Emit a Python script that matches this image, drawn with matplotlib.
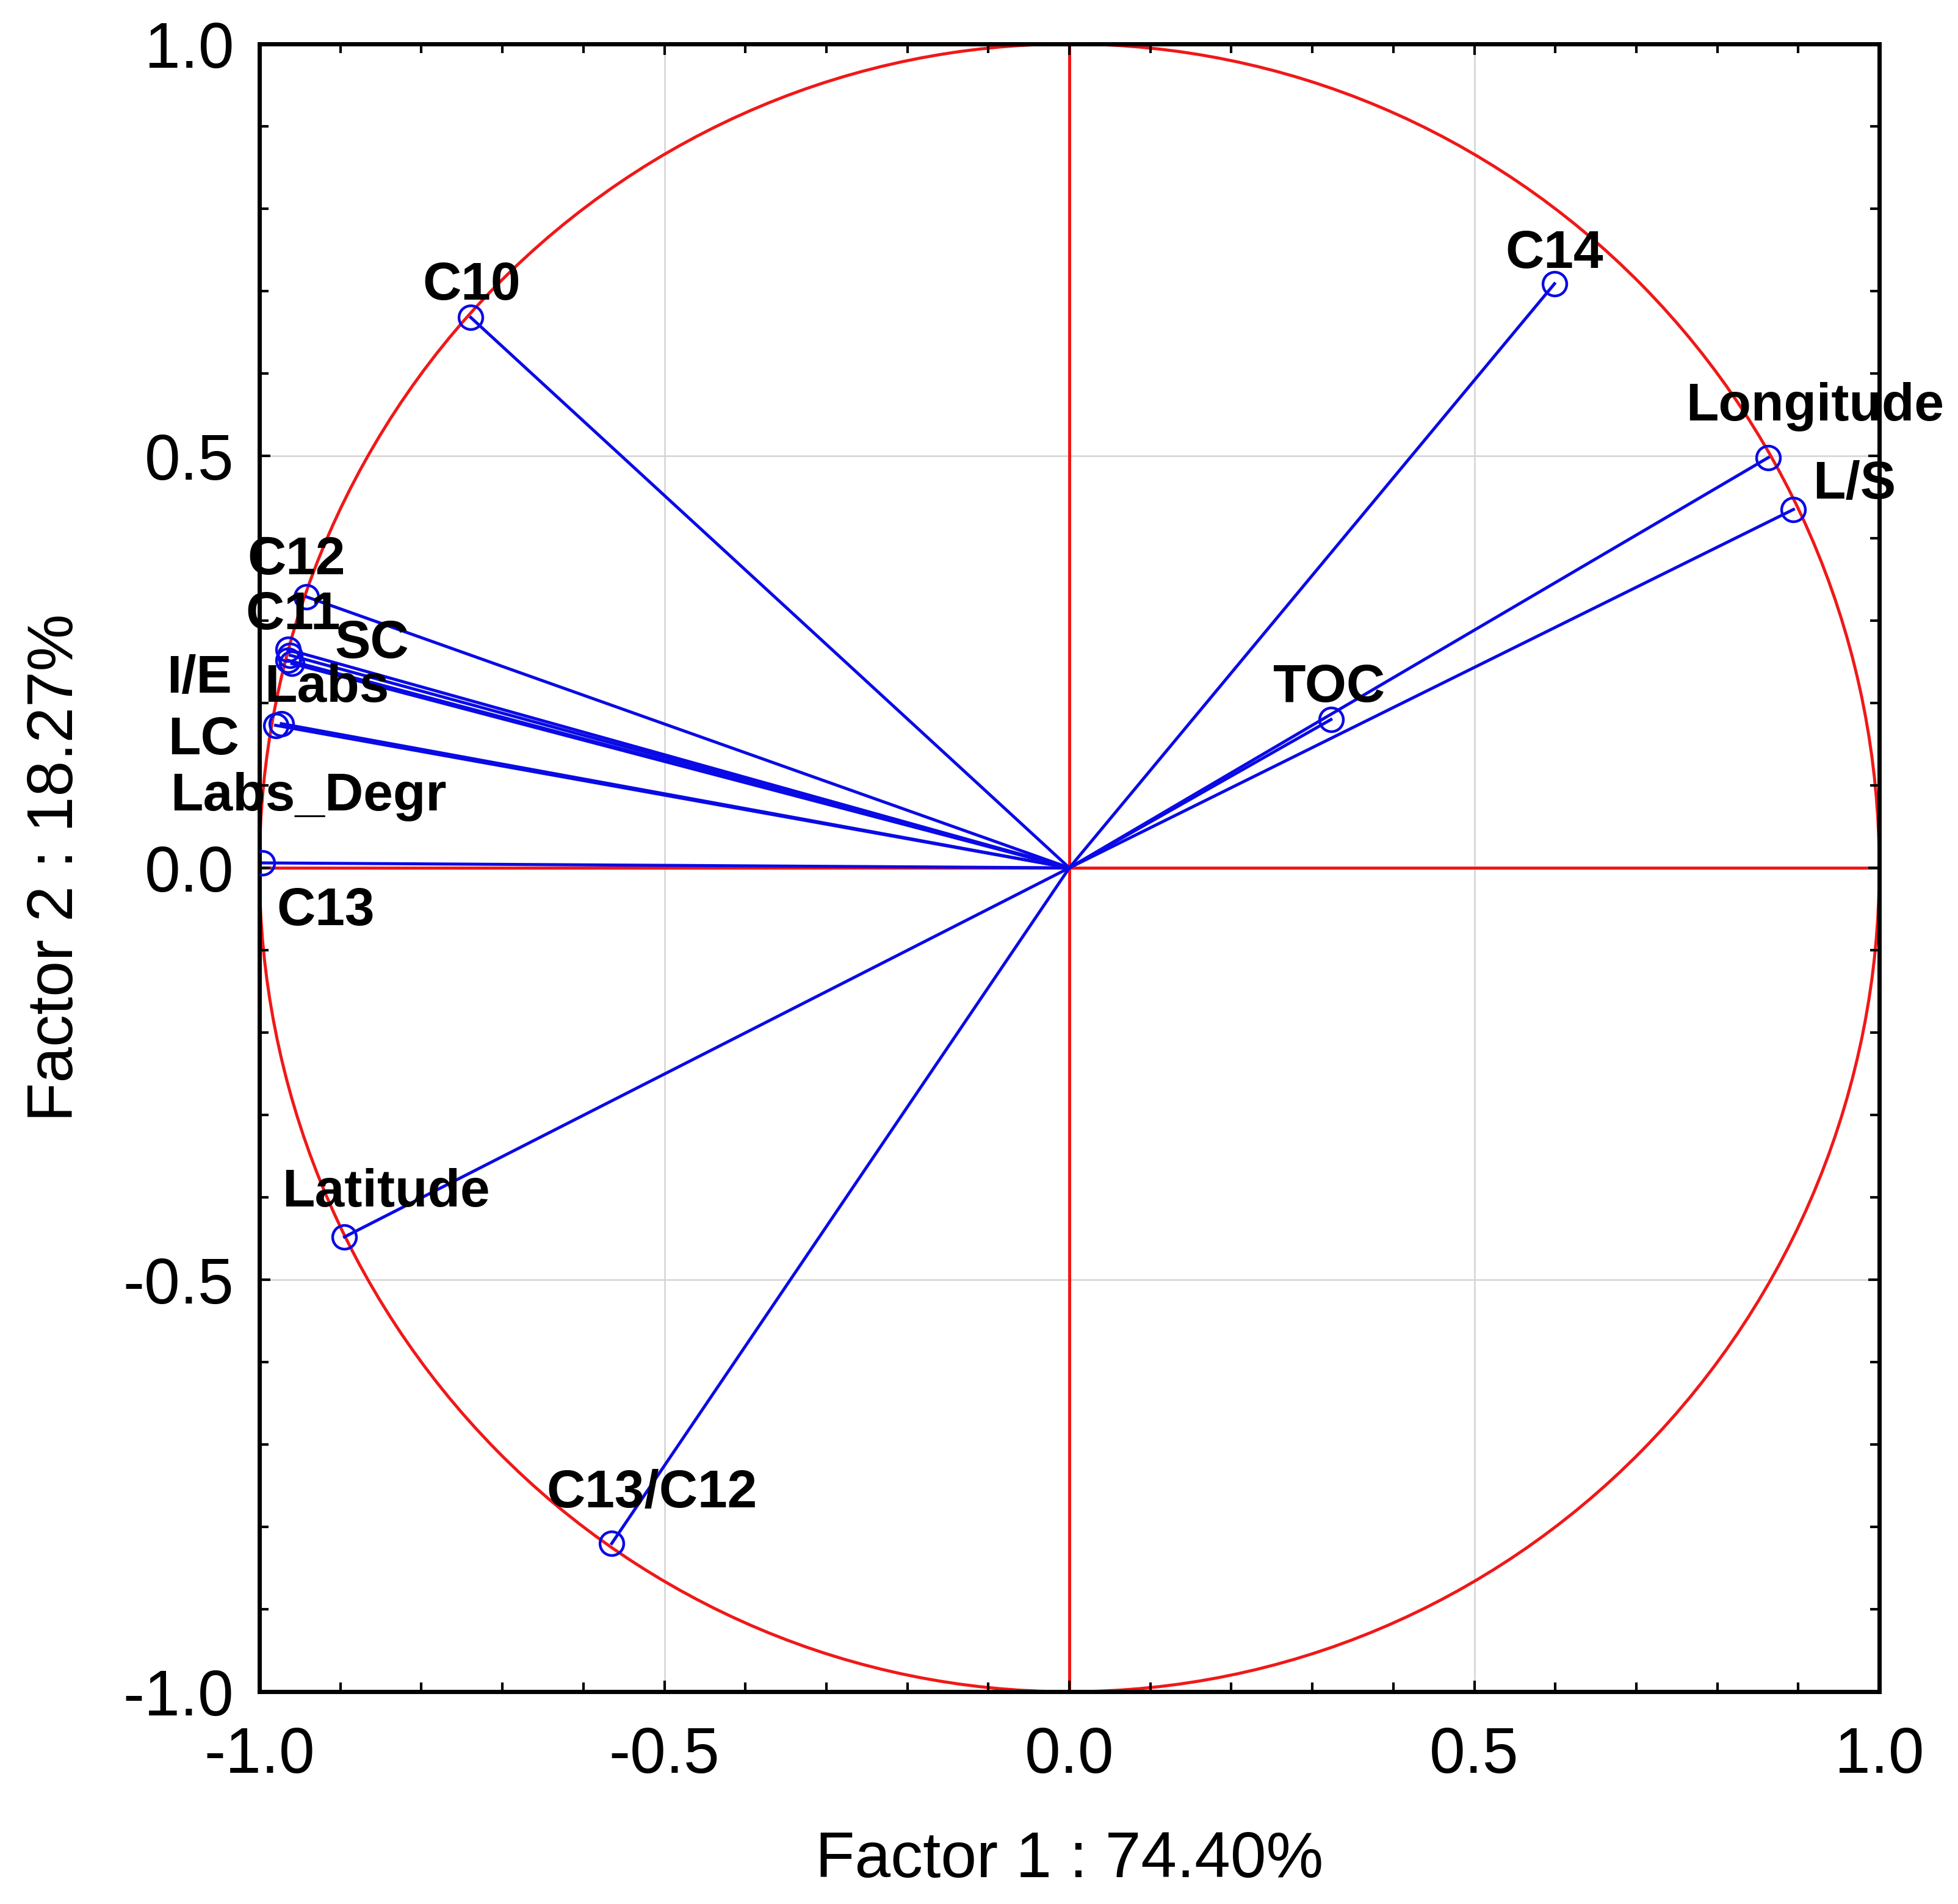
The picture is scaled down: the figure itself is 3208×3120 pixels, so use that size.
import matplotlib
matplotlib.use("Agg")
import matplotlib.pyplot as plt
import matplotlib.patches as mpatches
from matplotlib.ticker import MultipleLocator

plt.rcParams["font.family"] = ["Liberation Sans", "DejaVu Sans"]

# 变量载荷（Factor 1, Factor 2）
names = ["C10", "C14", "Longitude", "L/S", "TOC", "C12", "C11", "SC", "I/E",
         "Labs", "LC", "Labs_Degr", "C13", "Latitude", "C13/C12"]
f1 = [-0.739, 0.599, 0.863, 0.894, 0.323, -0.942, -0.965, -0.962, -0.965,
      -0.960, -0.980, -0.973, -0.996, -0.895, -0.565]
f2 = [0.668, 0.709, 0.498, 0.435, 0.180, 0.329, 0.265, 0.258, 0.252,
      0.248, 0.173, 0.175, 0.006, -0.448, -0.820]

# 标签偏移（points）
offsets = {
    "C10": (1, 37), "C14": (0, 35), "Longitude": (55, 60), "L/S": (72, 29),
    "TOC": (-2, 37), "C12": (-12, 43), "C11": (6, 40), "SC": (96, 13),
    "I/E": (-104, -22), "Labs": (41, -29), "LC": (-85, -18),
    "Labs_Degr": (32, -86), "C13": (74, -57), "Latitude": (49, 52),
    "C13/C12": (47, 59),
}

RED = "#f01818"
BLUE = "#0a0ae6"

fig = plt.figure(figsize=(32.08, 31.2), dpi=100)
ax = fig.add_axes([0.1325, 0.1115, 0.8273, 0.8654])

ax.set_xlim(-1, 1)
ax.set_ylim(-1, 1)

# 网格
for v in (-0.5, 0.5):
    ax.axvline(v, color="#d4d4d4", lw=1.8, zorder=0)
    ax.axhline(v, color="#d4d4d4", lw=1.8, zorder=0)

# 单位圆与坐标轴
ax.add_patch(mpatches.Circle((0, 0), 1, fill=False, edgecolor=RED, lw=3.6, zorder=1))
ax.axhline(0, color=RED, lw=3.6, zorder=1)
ax.axvline(0, color=RED, lw=3.6, zorder=1)

for n, x, y in zip(names, f1, f2):
    ax.plot([0, x], [0, y], color=BLUE, lw=3.6, zorder=2)
    ax.plot(x, y, "o", mfc="none", mec=BLUE, ms=28, mew=3.2, zorder=3)
    ax.annotate(n, (x, y), xytext=offsets[n], textcoords="offset points",
                ha="center", va="center", fontsize=63, fontweight="bold",
                color="black", zorder=4)

ax.xaxis.set_major_locator(MultipleLocator(0.5))
ax.yaxis.set_major_locator(MultipleLocator(0.5))
ax.xaxis.set_minor_locator(MultipleLocator(0.1))
ax.yaxis.set_minor_locator(MultipleLocator(0.1))
ax.xaxis.set_major_formatter(plt.FuncFormatter(lambda v, _: f"{v:.1f}"))
ax.yaxis.set_major_formatter(plt.FuncFormatter(lambda v, _: f"{v:.1f}"))

ax.tick_params(which="both", direction="in", top=True, right=True,
               width=3, color="black")
ax.tick_params(which="major", length=13, labelsize=76)
ax.tick_params(which="minor", length=11)
ax.tick_params(axis="x", which="major", pad=40)
ax.tick_params(axis="y", which="major", pad=30)

for s in ax.spines.values():
    s.set_linewidth(5)
    s.set_color("black")

ax.set_xlabel("Factor 1 : 74.40%", fontsize=76, labelpad=52)
ax.set_ylabel("Factor 2 : 18.27%", fontsize=76, labelpad=44)

plt.savefig("out.png", dpi=100)
plt.close()
